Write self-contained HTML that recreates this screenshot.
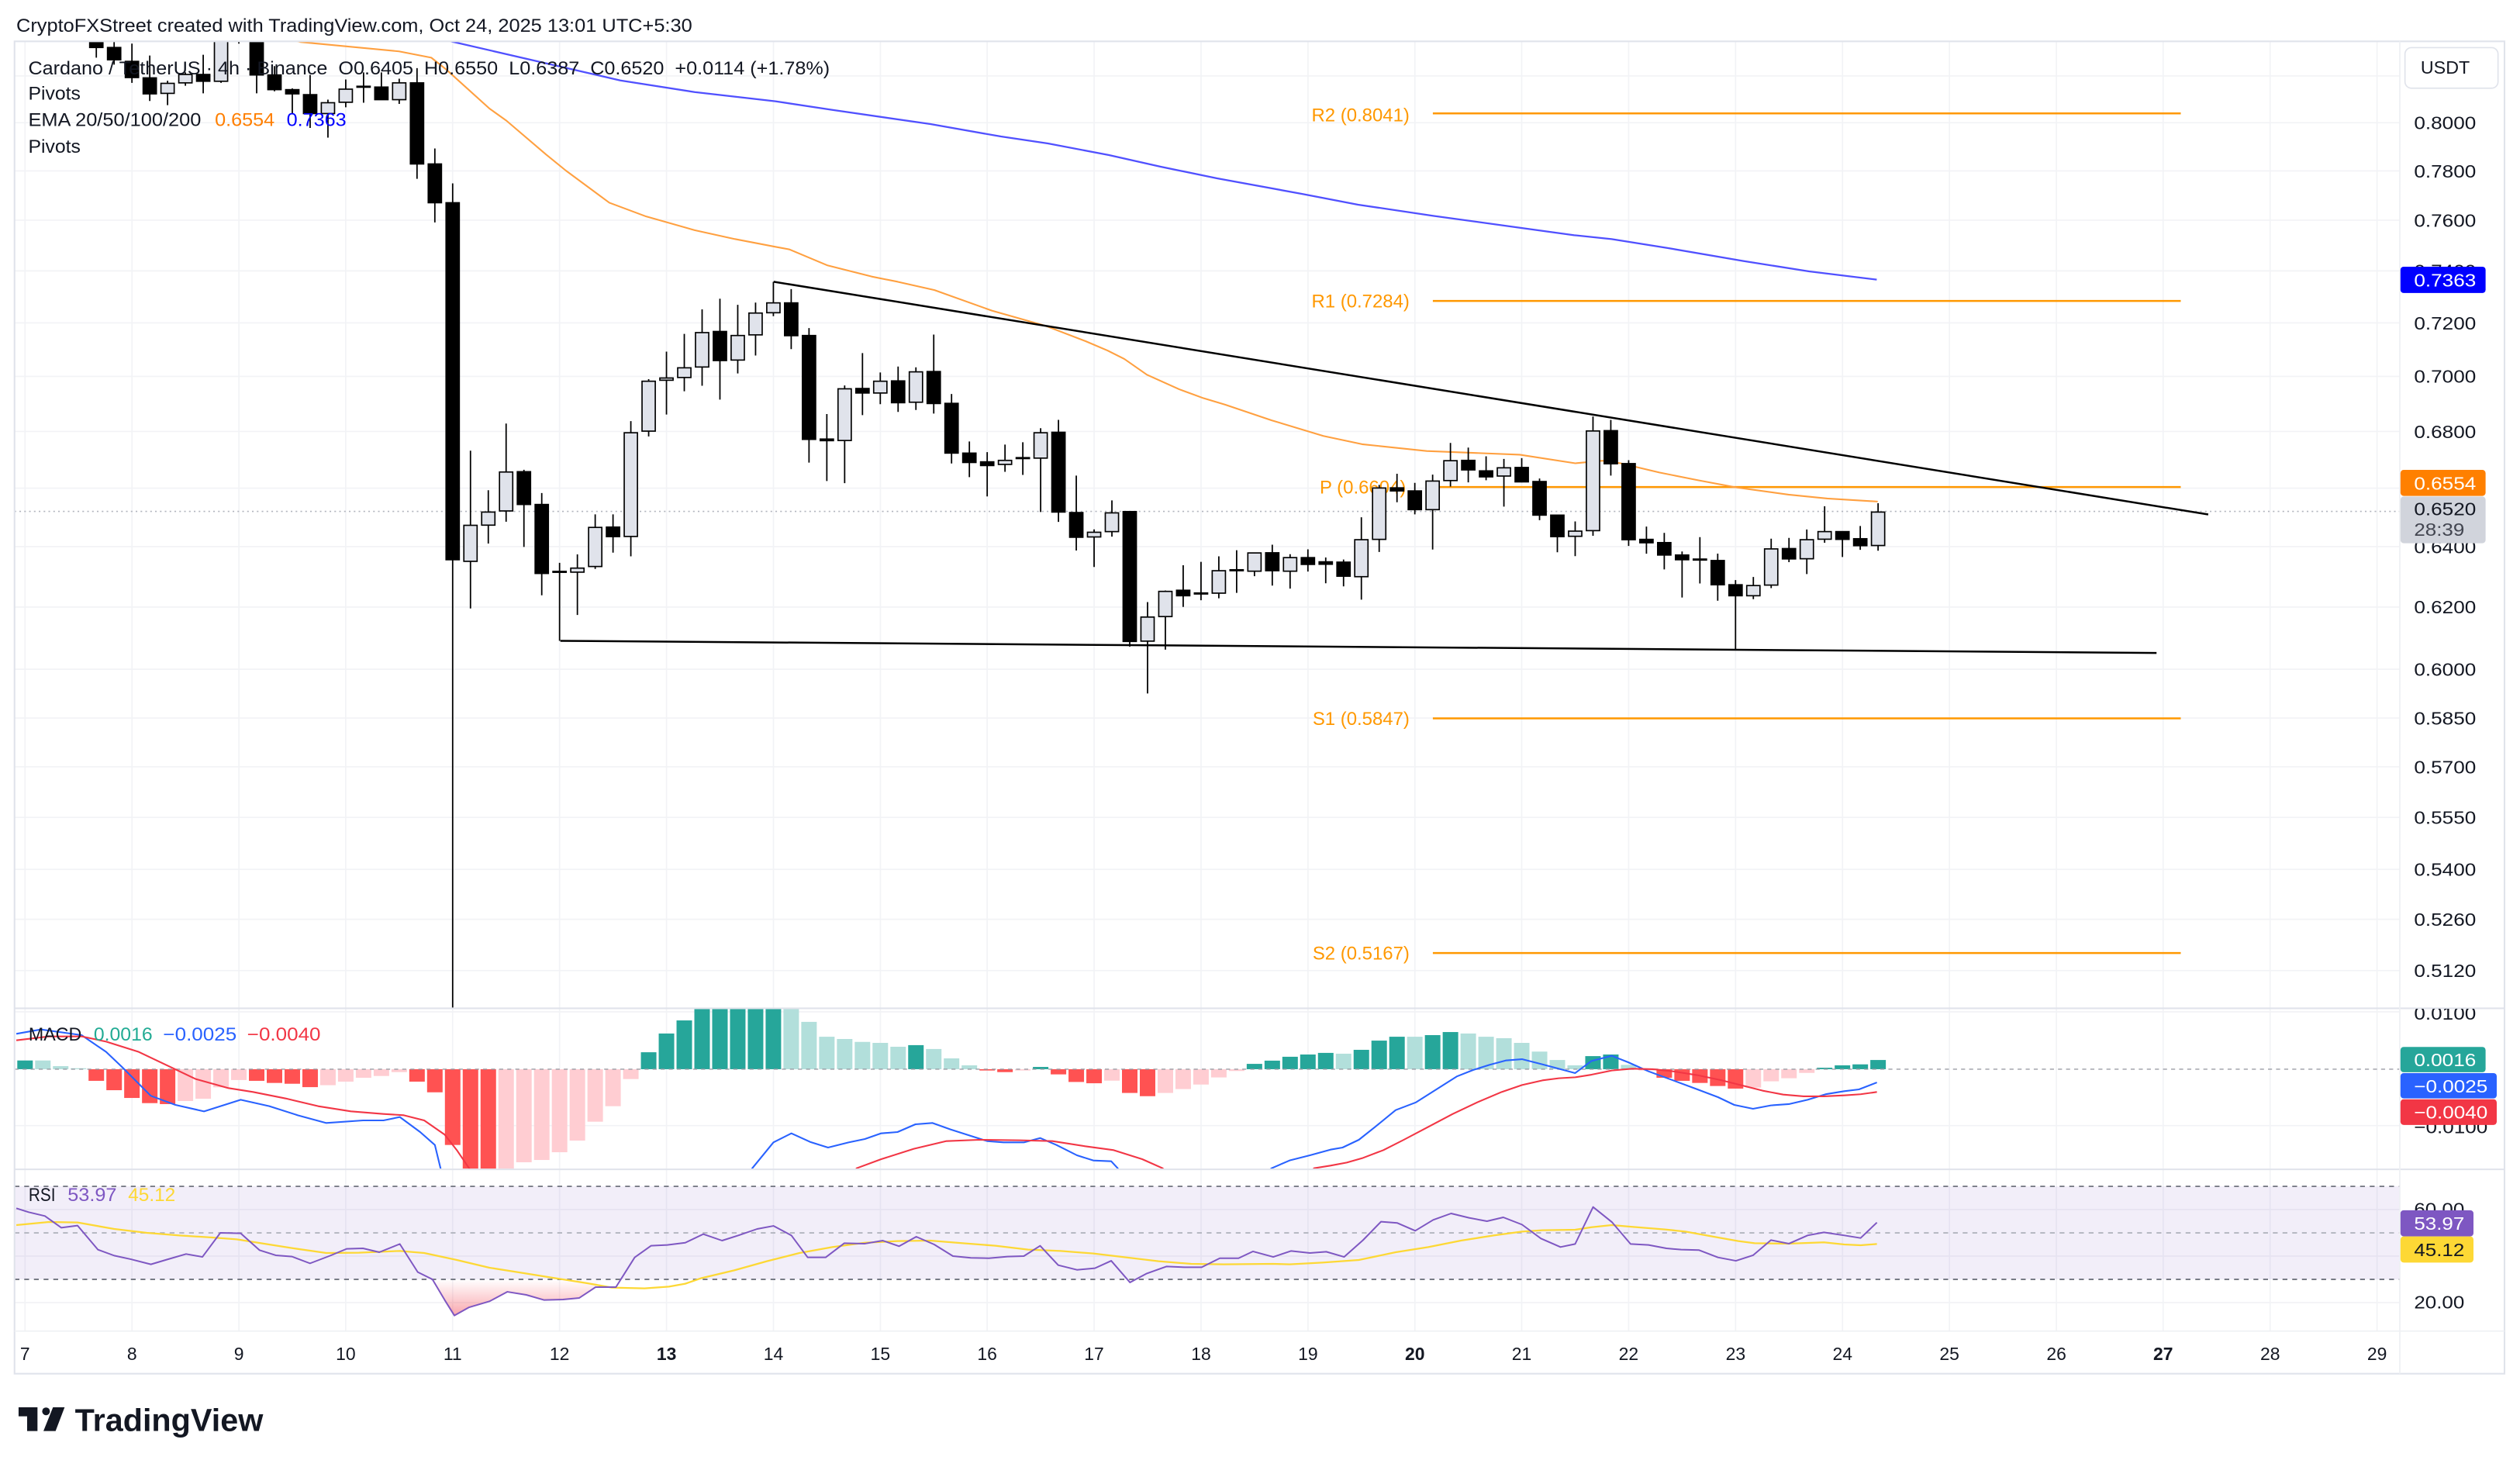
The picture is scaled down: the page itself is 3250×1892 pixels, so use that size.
<!DOCTYPE html>
<html><head><meta charset="utf-8"><style>
html,body{margin:0;padding:0;background:#fff;}
svg{display:block;font-family:"Liberation Sans",Arial,sans-serif;}
</style></head><body>
<svg width="3250" height="1892" viewBox="0 0 1560 908.16" xmlns="http://www.w3.org/2000/svg">
<defs>
<clipPath id="cm"><rect x="9" y="25.6" width="1476.6" height="598.4"/></clipPath>
<clipPath id="cmacd"><rect x="9" y="624.5" width="1476.6" height="99"/></clipPath>
<clipPath id="crsi"><rect x="9" y="724.2" width="1476.6" height="99.6"/></clipPath>
<clipPath id="caxm"><rect x="1486" y="624.5" width="70" height="99"/></clipPath>
<clipPath id="caxr"><rect x="1486" y="724.2" width="70" height="99.6"/></clipPath>
<linearGradient id="os" gradientUnits="userSpaceOnUse" x1="0" y1="792" x2="0" y2="815">
<stop offset="0" stop-color="#f23645" stop-opacity="0"/><stop offset="1" stop-color="#f23645" stop-opacity="0.45"/></linearGradient>
</defs>
<rect x="0" y="0" width="1560" height="908.16" fill="#fff"/>
<text x="10.1" y="19.6" font-size="11.5" fill="#131722" textLength="418.4" lengthAdjust="spacingAndGlyphs">CryptoFXStreet created with TradingView.com, Oct 24, 2025 13:01 UTC+5:30</text>

<!-- grids -->
<g stroke="#f2f3f6" stroke-width="0.8">
<path d="M9 47H1485.6M9 76H1485.6M9 105.8H1485.6M9 136.3H1485.6M9 167.7H1485.6M9 199.9H1485.6M9 233H1485.6M9 267.1H1485.6M9 302.2H1485.6M9 338.4H1485.6M9 375.8H1485.6M9 414.3H1485.6M9 444.5H1485.6M9 474.7H1485.6M9 506H1485.6M9 538.2H1485.6M9 569.1H1485.6M9 600.8H1485.6"/>
<path d="M9 626.4H1485.6M9 696.8H1485.6M9 748.8H1485.6M9 777.6H1485.6M9 806.4H1485.6"/>
<path d="M15.5 25.6V824M81.7 25.6V824M147.9 25.6V824M214 25.6V824M280.2 25.6V824M346.4 25.6V824M412.6 25.6V824M478.8 25.6V824M545 25.6V824M611.1 25.6V824M677.3 25.6V824M743.5 25.6V824M809.7 25.6V824M875.9 25.6V824M942 25.6V824M1008.2 25.6V824M1074.4 25.6V824M1140.6 25.6V824M1206.8 25.6V824M1273 25.6V824M1339.1 25.6V824M1405.3 25.6V824M1471.5 25.6V824"/>
</g>

<!-- main pane -->
<g clip-path="url(#cm)">
<path d="M9 316.6H1485.6" stroke="#b2b5be" stroke-width="0.8" stroke-dasharray="1,2"/>
<g stroke="#ff9800" stroke-width="1.2">
<path d="M887 70.2H1350M887 186.3H1350M887 301.5H1350M887 444.7H1350M887 590H1350"/>
</g>
<g font-size="11.5" fill="#ff9800" text-anchor="end">
<text x="872.6" y="75.2">R2 (0.8041)</text>
<text x="872.6" y="190.3">R1 (0.7284)</text>
<text x="870.4" y="305.6">P (0.6604)</text>
<text x="872.6" y="448.8">S1 (0.5847)</text>
<text x="872.6" y="594.1">S2 (0.5167)</text>
</g>
<polyline fill="none" stroke="#5050ff" stroke-width="1.1" stroke-linejoin="round" points="262,20 280,25.8 326,36.4 384,49.8 430,57 480,62.7 514.9,68 576,76.8 619.6,84.5 648.7,88.8 686.5,96 718.5,103.2 753.4,110.4 805.8,120 840.7,126.7 887.2,133.6 939.6,140.8 974.5,145.6 997.7,148 1032.7,153.6 1079.2,161.6 1119.9,168 1161.8,173.1"/>
<polyline fill="none" stroke="#ffa040" stroke-width="1" stroke-linejoin="round" points="170,22 186,26 247,31.8 267,35.7 276.2,43 303,67.2 313.5,74.7 338,95.6 350.3,105.6 377.2,125.5 400,134 430,142.5 455,148 480,152.8 488.7,154.4 512,164.2 539.6,171.2 555.6,174.4 578.5,179.6 614,192.3 647.5,201.8 672,211.2 685.6,217 696,222.2 710,232 730,241 745,246.5 758.4,250.5 787.2,260.2 819.2,269.9 843.2,275 883.2,279.2 940.8,281.5 975.2,286.8 992,285.2 1003.2,286.8 1027.2,292.5 1051.2,297.3 1075.2,301.8 1107.2,306.2 1131.2,308.6 1162.4,310.5"/>
<path d="M478.9 174.4L1367 318.5M346.9 396.7L1335 404.2" stroke="#000" stroke-width="1.2" fill="none"/>
<path stroke="#000" stroke-width="0.85" fill="none" d="M59.62 20V35.7M70.65 22V40M81.68 27V51.3M92.71 34.4V62.5M103.74 50V65.1M114.77 44.8V53.1M125.8 33.9V57.8M136.83 15V51.3M147.86 5V27M158.89 15V57.8M169.92 40.9V56.5M180.95 54.7V70.3M191.98 46.4V79.2M203.01 61.7V85.2M214.04 49.2V66.4M225.07 44.8V63.6M236.1 44.8V61.7M247.13 48.7V64.3M258.16 42.2V110.7M269.19 91.9V137.7M280.22 113.5V624M291.25 279V376.7M302.28 303.5V336.5M313.31 262.2V323M324.34 290.8V338.6M335.37 305.2V368.5M346.4 348.4V396.7M357.43 343.2V380.7M368.46 318.4V352.2M379.49 318.4V342.1M390.52 260.7V344.4M401.55 234.7V270.2M412.58 217.7V256.6M423.61 206.7V242.2M434.64 191.5V238.8M445.67 184.9V247.4M456.7 188.7V231.2M467.73 187.3V220.1M478.76 174.5V195.7M489.79 179V216.1M500.82 203.1V286.4M511.85 256.3V297.8M522.88 238.6V299.1M533.91 218.6V257M544.94 230.6V250.2M555.97 226.9V255M567 227.4V253.8M578.03 207.1V256M589.06 243.9V286.9M600.09 273.3V295.4M611.12 279.9V307.3M622.15 275.2V292.1M633.18 273.8V294M644.21 265.1V317M655.24 259.9V323.1M666.27 294.4V340.8M677.3 327.7V351M688.33 309.8V332.2M699.36 316.7V400.3M710.39 372.7V429.3M721.42 365.6V402.2M732.45 349.9V375.7M743.48 347.8V371.6M754.51 344.4V370.4M765.54 340.6V367M776.57 342.3V356.7M787.6 337.2V362.5M798.63 343.1V364.4M809.66 340.1V353.8M820.69 345.1V361.1M831.72 346.4V363M842.75 320.2V371.2M853.78 300.2V341.7M864.81 293.3V310.9M875.84 298.9V318.4M886.87 293.8V340.2M897.9 274.2V301.2M908.93 277.1V298.6M919.96 282.5V297.3M930.99 284.1V313.6M942.02 283.6V298.6M953.05 296.2V322M964.08 318.9V341.9M975.11 322.8V344.3M986.14 257.8V331.7M997.17 259.9V294.4M1008.2 284.9V338M1019.23 326V342.8M1030.26 329.9V352.5M1041.29 341.4V369.9M1052.32 332.5V361.2M1063.35 342.7V371.9M1074.38 359.1V402.2M1085.41 357.2V370.9M1096.44 333.5V364.1M1107.47 333V348M1118.5 327.8V355.4M1129.53 313.4V336M1140.56 329.1V344.8M1151.59 325.6V340.4M1162.62 311.5V340.9"/>
<g fill="#000" stroke="#000" stroke-width="0.8">
<rect x="55.52" y="20" width="8.2" height="9.4"/>
<rect x="66.55" y="29.4" width="8.2" height="7.6"/>
<rect x="77.58" y="38" width="8.2" height="10"/>
<rect x="88.61" y="48.2" width="8.2" height="9.9"/>
<rect x="121.7" y="46.1" width="8.2" height="4.2"/>
<rect x="143.76" y="10" width="8.2" height="8"/>
<rect x="154.79" y="20" width="8.2" height="26.4"/>
<rect x="165.82" y="46.4" width="8.2" height="9.1"/>
<rect x="176.85" y="55.5" width="8.2" height="2.6"/>
<rect x="187.88" y="58.6" width="8.2" height="11.7"/>
<rect x="220.97" y="53.4" width="8.2" height="0.6"/>
<rect x="232" y="53.9" width="8.2" height="7.8"/>
<rect x="254.06" y="51.3" width="8.2" height="50.2"/>
<rect x="265.09" y="101.5" width="8.2" height="24"/>
<rect x="276.12" y="125.5" width="8.2" height="221"/>
<rect x="320.24" y="292" width="8.2" height="20.3"/>
<rect x="331.27" y="312.3" width="8.2" height="42.7"/>
<rect x="342.3" y="353.7" width="8.2" height="0.6"/>
<rect x="375.39" y="326.3" width="8.2" height="5.9"/>
<rect x="441.57" y="205.2" width="8.2" height="18"/>
<rect x="485.69" y="187.5" width="8.2" height="20.3"/>
<rect x="496.72" y="207.7" width="8.2" height="64.3"/>
<rect x="507.75" y="271.8" width="8.2" height="1"/>
<rect x="529.81" y="240.5" width="8.2" height="2.8"/>
<rect x="551.87" y="235.8" width="8.2" height="13.5"/>
<rect x="573.93" y="230" width="8.2" height="19.8"/>
<rect x="584.96" y="249.7" width="8.2" height="30.8"/>
<rect x="595.99" y="280.5" width="8.2" height="5.8"/>
<rect x="607.02" y="285.9" width="8.2" height="2.3"/>
<rect x="629.08" y="283.3" width="8.2" height="0.6"/>
<rect x="651.14" y="267.6" width="8.2" height="49.4"/>
<rect x="662.17" y="317.3" width="8.2" height="15.3"/>
<rect x="695.26" y="316.7" width="8.2" height="80.4"/>
<rect x="728.35" y="365.4" width="8.2" height="3.4"/>
<rect x="739.38" y="367.1" width="8.2" height="0.6"/>
<rect x="761.44" y="352.7" width="8.2" height="0.6"/>
<rect x="783.5" y="342.2" width="8.2" height="11.1"/>
<rect x="805.56" y="345.2" width="8.2" height="4.2"/>
<rect x="816.59" y="347.8" width="8.2" height="1.5"/>
<rect x="827.62" y="348" width="8.2" height="8.7"/>
<rect x="860.71" y="302" width="8.2" height="1.9"/>
<rect x="871.74" y="303.9" width="8.2" height="11.6"/>
<rect x="904.83" y="285" width="8.2" height="5.9"/>
<rect x="915.86" y="291.5" width="8.2" height="3.7"/>
<rect x="937.92" y="289.4" width="8.2" height="8.9"/>
<rect x="948.95" y="298.1" width="8.2" height="20.8"/>
<rect x="959.98" y="318.9" width="8.2" height="13.3"/>
<rect x="993.07" y="266.6" width="8.2" height="20.5"/>
<rect x="1004.1" y="287" width="8.2" height="47.1"/>
<rect x="1015.13" y="333.9" width="8.2" height="2.1"/>
<rect x="1026.16" y="335.9" width="8.2" height="7.7"/>
<rect x="1037.19" y="343.6" width="8.2" height="2.9"/>
<rect x="1048.22" y="346.1" width="8.2" height="0.6"/>
<rect x="1059.25" y="347" width="8.2" height="15"/>
<rect x="1070.28" y="362" width="8.2" height="6.8"/>
<rect x="1103.37" y="339.6" width="8.2" height="6.4"/>
<rect x="1136.46" y="329.1" width="8.2" height="4.8"/>
<rect x="1147.49" y="333.5" width="8.2" height="4.3"/>
</g>
<g fill="#e0e3eb" stroke="#000" stroke-width="0.8">
<rect x="99.64" y="51.6" width="8.2" height="6.2"/>
<rect x="110.67" y="46.1" width="8.2" height="5.2"/>
<rect x="132.73" y="20" width="8.2" height="30.3"/>
<rect x="198.91" y="63.6" width="8.2" height="6.7"/>
<rect x="209.94" y="55.2" width="8.2" height="8.1"/>
<rect x="243.03" y="51.3" width="8.2" height="10.4"/>
<rect x="287.15" y="325.2" width="8.2" height="22.3"/>
<rect x="298.18" y="317" width="8.2" height="8.1"/>
<rect x="309.21" y="292.2" width="8.2" height="24.1"/>
<rect x="353.33" y="351.7" width="8.2" height="2.5"/>
<rect x="364.36" y="326.5" width="8.2" height="24.2"/>
<rect x="386.42" y="267.9" width="8.2" height="64.2"/>
<rect x="397.45" y="236" width="8.2" height="30.9"/>
<rect x="408.48" y="234" width="8.2" height="1.4"/>
<rect x="419.51" y="227.7" width="8.2" height="6"/>
<rect x="430.54" y="205.9" width="8.2" height="21.3"/>
<rect x="452.6" y="207.7" width="8.2" height="15.2"/>
<rect x="463.63" y="193.8" width="8.2" height="13.5"/>
<rect x="474.66" y="187.5" width="8.2" height="6.1"/>
<rect x="518.78" y="240.7" width="8.2" height="32"/>
<rect x="540.84" y="236" width="8.2" height="7.3"/>
<rect x="562.9" y="230.2" width="8.2" height="18.8"/>
<rect x="618.05" y="285" width="8.2" height="2.5"/>
<rect x="640.11" y="267.9" width="8.2" height="15.7"/>
<rect x="673.2" y="329.5" width="8.2" height="2.9"/>
<rect x="684.23" y="317.5" width="8.2" height="11.6"/>
<rect x="706.29" y="382" width="8.2" height="14.9"/>
<rect x="717.32" y="366.1" width="8.2" height="15.6"/>
<rect x="750.41" y="353.3" width="8.2" height="13.9"/>
<rect x="772.47" y="342.3" width="8.2" height="11.3"/>
<rect x="794.53" y="345.2" width="8.2" height="8.4"/>
<rect x="838.65" y="334.1" width="8.2" height="22.9"/>
<rect x="849.68" y="302.1" width="8.2" height="31.8"/>
<rect x="882.77" y="297.8" width="8.2" height="17.7"/>
<rect x="893.8" y="285.2" width="8.2" height="12.3"/>
<rect x="926.89" y="289.6" width="8.2" height="5.1"/>
<rect x="971.01" y="328.8" width="8.2" height="3.2"/>
<rect x="982.04" y="266.8" width="8.2" height="61.7"/>
<rect x="1081.31" y="362.5" width="8.2" height="6.3"/>
<rect x="1092.34" y="339.8" width="8.2" height="22.4"/>
<rect x="1114.4" y="334.1" width="8.2" height="11.8"/>
<rect x="1125.43" y="329.1" width="8.2" height="4.7"/>
<rect x="1158.52" y="317" width="8.2" height="20.7"/>
</g>
</g>

<!-- legend -->
<g font-size="11.5" fill="#131722">
<text x="17.5" y="46" xml:space="preserve" textLength="496.2" lengthAdjust="spacingAndGlyphs">Cardano / TetherUS · 4h · Binance  O0.6405  H0.6550  L0.6387  C0.6520  +0.0114 (+1.78%)</text>
<text x="17.5" y="61.7" textLength="32.4" lengthAdjust="spacingAndGlyphs">Pivots</text>
<text x="17.5" y="78" textLength="107" lengthAdjust="spacingAndGlyphs">EMA 20/50/100/200</text>
<text x="133" y="78" fill="#ff7f00" textLength="37" lengthAdjust="spacingAndGlyphs">0.6554</text>
<text x="177.4" y="78" fill="#0000ff" textLength="37" lengthAdjust="spacingAndGlyphs">0.7363</text>
<text x="17.5" y="94.5" textLength="32.4" lengthAdjust="spacingAndGlyphs">Pivots</text>
</g>

<!-- MACD pane -->
<g clip-path="url(#cmacd)">
<g fill="#26a69a">
<rect x="10.7" y="656.5" width="9.6" height="5.4"/>
<rect x="396.75" y="651.4" width="9.6" height="10.5"/>
<rect x="407.78" y="639.8" width="9.6" height="22.1"/>
<rect x="418.81" y="631.7" width="9.6" height="30.2"/>
<rect x="429.84" y="620" width="9.6" height="41.9"/>
<rect x="440.87" y="620" width="9.6" height="41.9"/>
<rect x="451.9" y="620" width="9.6" height="41.9"/>
<rect x="462.93" y="620" width="9.6" height="41.9"/>
<rect x="473.96" y="620" width="9.6" height="41.9"/>
<rect x="562.2" y="647" width="9.6" height="14.9"/>
<rect x="639.41" y="660.5" width="9.6" height="1.4"/>
<rect x="771.77" y="658.6" width="9.6" height="3.3"/>
<rect x="782.8" y="656.6" width="9.6" height="5.3"/>
<rect x="793.83" y="654.2" width="9.6" height="7.7"/>
<rect x="804.86" y="652.8" width="9.6" height="9.1"/>
<rect x="815.89" y="651.8" width="9.6" height="10.1"/>
<rect x="837.95" y="649.9" width="9.6" height="12"/>
<rect x="848.98" y="644.2" width="9.6" height="17.7"/>
<rect x="860.01" y="641.8" width="9.6" height="20.1"/>
<rect x="882.07" y="640.8" width="9.6" height="21.1"/>
<rect x="893.1" y="638.9" width="9.6" height="23"/>
<rect x="981.34" y="653.8" width="9.6" height="8.1"/>
<rect x="992.37" y="652.8" width="9.6" height="9.1"/>
<rect x="1124.73" y="661" width="9.6" height="0.9"/>
<rect x="1135.76" y="659.5" width="9.6" height="2.4"/>
<rect x="1146.79" y="658.9" width="9.6" height="3"/>
<rect x="1157.82" y="656.2" width="9.6" height="5.7"/>
</g>
<g fill="#b2dfdb">
<rect x="21.73" y="656.5" width="9.6" height="5.4"/>
<rect x="32.76" y="660" width="9.6" height="1.9"/>
<rect x="43.79" y="661.3" width="9.6" height="0.6"/>
<rect x="484.99" y="620" width="9.6" height="41.9"/>
<rect x="496.02" y="632.6" width="9.6" height="29.3"/>
<rect x="507.05" y="641.8" width="9.6" height="20.1"/>
<rect x="518.08" y="643.2" width="9.6" height="18.7"/>
<rect x="529.11" y="645" width="9.6" height="16.9"/>
<rect x="540.14" y="645.6" width="9.6" height="16.3"/>
<rect x="551.17" y="648" width="9.6" height="13.9"/>
<rect x="573.23" y="649.4" width="9.6" height="12.5"/>
<rect x="584.26" y="655.2" width="9.6" height="6.7"/>
<rect x="595.29" y="659.5" width="9.6" height="2.4"/>
<rect x="826.92" y="652.3" width="9.6" height="9.6"/>
<rect x="871.04" y="641.8" width="9.6" height="20.1"/>
<rect x="904.13" y="639.8" width="9.6" height="22.1"/>
<rect x="915.16" y="641.8" width="9.6" height="20.1"/>
<rect x="926.19" y="642.7" width="9.6" height="19.2"/>
<rect x="937.22" y="645.6" width="9.6" height="16.3"/>
<rect x="948.25" y="651" width="9.6" height="10.9"/>
<rect x="959.28" y="656.2" width="9.6" height="5.7"/>
<rect x="970.31" y="659.5" width="9.6" height="2.4"/>
<rect x="1003.4" y="659.2" width="9.6" height="2.7"/>
</g>
<g fill="#ff5252">
<rect x="54.82" y="661.9" width="9.6" height="7.2"/>
<rect x="65.85" y="661.9" width="9.6" height="13"/>
<rect x="76.88" y="661.9" width="9.6" height="17.8"/>
<rect x="87.91" y="661.9" width="9.6" height="21"/>
<rect x="98.94" y="661.9" width="9.6" height="21.6"/>
<rect x="154.09" y="661.9" width="9.6" height="7.2"/>
<rect x="165.12" y="661.9" width="9.6" height="8.5"/>
<rect x="176.15" y="661.9" width="9.6" height="9"/>
<rect x="187.18" y="661.9" width="9.6" height="11.1"/>
<rect x="253.36" y="661.9" width="9.6" height="7.7"/>
<rect x="264.39" y="661.9" width="9.6" height="14.3"/>
<rect x="275.42" y="661.9" width="9.6" height="46.9"/>
<rect x="286.45" y="661.9" width="9.6" height="66"/>
<rect x="297.48" y="661.9" width="9.6" height="66"/>
<rect x="606.32" y="661.9" width="9.6" height="0.8"/>
<rect x="617.35" y="661.9" width="9.6" height="1.8"/>
<rect x="650.44" y="661.9" width="9.6" height="3.2"/>
<rect x="661.47" y="661.9" width="9.6" height="7.9"/>
<rect x="672.5" y="661.9" width="9.6" height="8.7"/>
<rect x="694.56" y="661.9" width="9.6" height="14.7"/>
<rect x="705.59" y="661.9" width="9.6" height="16.7"/>
<rect x="1025.46" y="661.9" width="9.6" height="5.3"/>
<rect x="1036.49" y="661.9" width="9.6" height="7.2"/>
<rect x="1047.52" y="661.9" width="9.6" height="8.5"/>
<rect x="1058.55" y="661.9" width="9.6" height="10.4"/>
<rect x="1069.58" y="661.9" width="9.6" height="12"/>
</g>
<g fill="#ffcdd2">
<rect x="109.97" y="661.9" width="9.6" height="19.7"/>
<rect x="121" y="661.9" width="9.6" height="18.3"/>
<rect x="132.03" y="661.9" width="9.6" height="11.2"/>
<rect x="143.06" y="661.9" width="9.6" height="6.7"/>
<rect x="198.21" y="661.9" width="9.6" height="9.9"/>
<rect x="209.24" y="661.9" width="9.6" height="7.7"/>
<rect x="220.27" y="661.9" width="9.6" height="5.3"/>
<rect x="231.3" y="661.9" width="9.6" height="4.2"/>
<rect x="242.33" y="661.9" width="9.6" height="1.8"/>
<rect x="308.51" y="661.9" width="9.6" height="66"/>
<rect x="319.54" y="661.9" width="9.6" height="57.6"/>
<rect x="330.57" y="661.9" width="9.6" height="56.2"/>
<rect x="341.6" y="661.9" width="9.6" height="51.4"/>
<rect x="352.63" y="661.9" width="9.6" height="44.2"/>
<rect x="363.66" y="661.9" width="9.6" height="32.5"/>
<rect x="374.69" y="661.9" width="9.6" height="22.9"/>
<rect x="385.72" y="661.9" width="9.6" height="6.1"/>
<rect x="628.38" y="661.9" width="9.6" height="0.8"/>
<rect x="683.53" y="661.9" width="9.6" height="7.1"/>
<rect x="716.62" y="661.9" width="9.6" height="14.7"/>
<rect x="727.65" y="661.9" width="9.6" height="12.3"/>
<rect x="738.68" y="661.9" width="9.6" height="9.5"/>
<rect x="749.71" y="661.9" width="9.6" height="5.1"/>
<rect x="760.74" y="661.9" width="9.6" height="1.1"/>
<rect x="1014.43" y="661.9" width="9.6" height="0.8"/>
<rect x="1080.61" y="661.9" width="9.6" height="11.4"/>
<rect x="1091.64" y="661.9" width="9.6" height="7.5"/>
<rect x="1102.67" y="661.9" width="9.6" height="5.6"/>
<rect x="1113.7" y="661.9" width="9.6" height="2.3"/>
</g>
<path d="M9 661.9H1485.6" stroke="#9598a1" stroke-width="0.8" stroke-dasharray="2.5,2.5" opacity="0.8"/>
<polyline fill="none" stroke="#2962ff" stroke-width="1" stroke-linejoin="round" points="10.1,640 25.3,637.3 50.5,640.8 65.7,651.2 75.8,660.8 93.4,678.4 108.6,684 126.3,688 149,680.8 166.7,684.8 184.3,690.4 202,695.2 224.7,693.6 237.4,693.6 247.5,691.5 260.1,700.8 269.2,708.8 272.7,723.2 275.3,731"/>
<polyline fill="none" stroke="#2962ff" stroke-width="1" stroke-linejoin="round" points="462.1,731 465.7,723.2 478.8,707.2 489.9,701.6 501.5,706.9 512.6,710.4 525.3,707.2 535.4,705.1 545.5,701.6 555.6,700.8 566.7,696 577.3,695.2 588.4,699.2 601,703.2 611.1,706.4 621.2,707.2 633.8,707.2 643.9,704.5 654,708.8 666.7,715.2 676.8,718.4 687.9,718.9 691.9,723.2 697,734"/>
<polyline fill="none" stroke="#2962ff" stroke-width="1" stroke-linejoin="round" points="778.1,731 787.2,723.2 798.3,718.4 810.9,715.2 823.6,711.7 831.1,710.4 841.2,705.6 851.3,697.6 864,687.2 876.6,682.4 889.2,674.4 901.8,666.4 911.9,662.4 922,659.2 932.1,656.5 942.2,655.7 954.9,658.9 965,661.6 975.1,664.3 985.2,656.8 997.8,653.6 1007.9,657.6 1020.5,663.2 1035.7,668.8 1050.8,674.4 1063.5,679.2 1073.6,684 1085.2,686.4 1096.3,684.3 1107.4,683.5 1119,680.8 1130.6,677.3 1141.7,675.5 1150.8,674.4 1161.9,670.1"/>
<polyline fill="none" stroke="#f23645" stroke-width="1" stroke-linejoin="round" points="10.1,644 30.3,641.6 50.5,641.6 65.7,644.8 85.9,651.2 106.1,660.8 121.2,668 141.4,673.6 156.6,676 176.8,680 197,684.8 217.2,688 237.4,689.6 250,690.4 262.6,693.6 275.3,702.4 282.8,712 290.4,723.2 295.5,731"/>
<polyline fill="none" stroke="#f23645" stroke-width="1" stroke-linejoin="round" points="525.3,731 530.3,723.2 545.5,717.6 565.7,711.2 585.9,706.4 606.1,705.6 631.3,705.9 651.5,706.4 671.7,709.6 689.4,712 707.1,717.6 719.7,723.2 727.3,731"/>
<polyline fill="none" stroke="#f23645" stroke-width="1" stroke-linejoin="round" points="805.9,731 813.5,723.2 823.6,721.6 833.7,719.7 843.8,716.8 856.4,712 869,705.6 884.2,697.6 899.3,689.6 914.5,682.4 929.6,676 942.2,671.7 954.9,668.8 965,667.5 975.1,666.9 985.2,665.3 997.8,662.7 1010.4,661.6 1023.1,661.9 1035.7,663.2 1050.8,665.6 1066,668.8 1078.6,672 1091.2,675.2 1103.9,677.6 1116.5,678.7 1129.1,678.7 1141.7,678.1 1151.8,677.4 1161.9,676"/>
</g>
<g font-size="11.5">
<text x="17.7" y="644.1" fill="#131722" textLength="32.8" lengthAdjust="spacingAndGlyphs">MACD</text>
<text x="58" y="644.1" fill="#22ab94" textLength="36.4" lengthAdjust="spacingAndGlyphs">0.0016</text>
<text x="101" y="644.1" fill="#2962ff" textLength="45.5" lengthAdjust="spacingAndGlyphs">−0.0025</text>
<text x="153" y="644.1" fill="#f23645" textLength="45.5" lengthAdjust="spacingAndGlyphs">−0.0040</text>
</g>

<!-- RSI pane -->
<g clip-path="url(#crsi)">
<rect x="9" y="734.4" width="1476.6" height="57.6" fill="#7e57c2" opacity="0.1"/>
<path d="M9 734.4H1485.6M9 792H1485.6" stroke="#787b86" stroke-width="0.9" stroke-dasharray="3,3"/>
<path d="M9 763.2H1485.6" stroke="#b2b5be" stroke-width="0.9" stroke-dasharray="3,3"/>
<polygon fill="url(#os)" points="267.7,792 275.3,804.8 281.3,814.4 290.4,809.3 303,805.6 314.1,799.7 325.8,801.6 336.9,804.8 348.5,804.5 358.6,803.5 368.7,796.8 371,792"/>
<polyline fill="none" stroke="#fdd835" stroke-width="1.1" stroke-linejoin="round" points="10.1,758.4 30.3,756.5 48,756.8 70.7,760.8 90.9,763.2 111.1,764.8 131.3,766.1 146.5,767.2 161.6,769.6 181.8,772.8 202,775.7 222.2,775.5 247.5,774.4 262.6,775.7 282.8,780 303,784.8 323.2,788 343.4,791.2 363.6,794.4 378.8,797.1 399,797.6 414.1,796.5 424.2,794.7 434.3,791.2 454.5,786.4 474.7,780.8 494.9,775.7 515.2,772 535.4,769.3 555.6,768.3 575.8,768 596,769.6 616.2,771.2 636.4,773.6 656.6,774.4 676.8,776 697,778.4 717.2,780.8 737.4,782.4 757.6,782.7 787.9,782.4 798.3,782.7 818.5,781.6 841.2,780 864,775.2 884.2,772 904.4,768 924.6,764.8 942.2,762.4 954.9,761.6 975.1,761.3 985.2,759.7 997.8,758.4 1010.4,759.5 1030.6,761.1 1043.3,762.4 1060.9,765.6 1076.1,768.3 1086.2,769.6 1106.4,769.9 1129.1,769.1 1141.7,770.4 1151.8,770.9 1161.9,770.1"/>
<polyline fill="none" stroke="#7e57c2" stroke-width="0.95" stroke-linejoin="round" points="10.1,748 17.7,750.4 27.8,752.8 37.9,760 48,758.7 60.6,773.6 70.7,777.3 80.8,779.5 93.4,782.7 103.5,779.7 115.2,776.3 125.3,778.1 136.4,763.2 149,763.5 160.6,773.9 170.7,777.1 180.8,777.9 191.9,782.1 204.5,777.3 214.6,773.1 224.7,772.8 234.8,775.2 247.5,770.1 258.6,787.5 267.7,792 275.3,804.8 281.3,814.4 290.4,809.3 303,805.6 314.1,799.7 325.8,801.6 336.9,804.8 348.5,804.5 358.6,803.5 368.7,796.8 381.3,796.8 392.9,778.4 403,771.2 413.1,770.7 424.2,769.3 435.4,764 447,768 457.1,764.8 468.7,760.8 478.8,758.9 489.9,764.8 500,778.4 511.1,778.4 522.7,769.6 535.4,769.9 546.5,768 556.6,771.5 567.2,765.6 578.3,770.4 589.9,777.6 601,778.7 612.1,778.9 623.7,777.9 633.8,777.6 643.9,771.2 655.1,783.2 666.7,786.1 677.8,785.1 687.9,780.5 699.5,793.9 709.6,788.5 722.2,784 733.3,784.5 743.9,784.5 755.1,778.9 766.7,778.9 775.6,774.7 788.2,778.1 799.3,774.4 810.9,775.7 821,774.9 832.1,778.1 843.8,767.7 854.9,756.3 865,757.1 876.1,761.9 887.2,755.2 898.3,751.2 909.4,753.9 920.5,756 930.6,753.6 942.2,758.1 953.9,766.7 966,772 975.1,770.1 986.2,747.2 997.8,756.5 1009.4,770.1 1020.5,770.7 1031.6,772.8 1040.7,773.6 1051.8,773.9 1063.5,778.4 1074.6,780.5 1085.2,777.1 1096.3,767.7 1107.4,769.9 1119,764.8 1129.1,762.9 1141.7,764.8 1151.8,766.4 1161.9,756.8"/>
</g>
<g font-size="11.5">
<text x="17.7" y="743.6" fill="#131722" textLength="16.6" lengthAdjust="spacingAndGlyphs">RSI</text>
<text x="41.9" y="743.6" fill="#7e57c2" textLength="30.3" lengthAdjust="spacingAndGlyphs">53.97</text>
<text x="79.3" y="743.6" fill="#fdd835" textLength="29.3" lengthAdjust="spacingAndGlyphs">45.12</text>
</g>

<!-- frame & separators -->
<g fill="none" stroke="#e0e3eb" stroke-width="1">
<rect x="9" y="25.6" width="1541.4" height="824.8"/>
<path d="M9 624.2H1550.4M9 723.9H1550.4"/>
</g>
<path d="M9 824H1550.4M1485.6 25.6V850.4" stroke="#eef0f3" stroke-width="0.8"/>

<!-- price axis -->
<rect x="1488.8" y="29.5" width="57.6" height="25.1" rx="4" fill="#fff" stroke="#e0e3eb" stroke-width="0.8"/>
<text x="1498.5" y="45.7" font-size="11" fill="#131722" textLength="30.4" lengthAdjust="spacingAndGlyphs">USDT</text>
<g font-size="11" fill="#131722">
<text x="1494.4" y="80" textLength="38.4" lengthAdjust="spacingAndGlyphs">0.8000</text>
<text x="1494.4" y="109.8" textLength="38.4" lengthAdjust="spacingAndGlyphs">0.7800</text>
<text x="1494.4" y="140.3" textLength="38.4" lengthAdjust="spacingAndGlyphs">0.7600</text>
<text x="1494.4" y="171.7" textLength="38.4" lengthAdjust="spacingAndGlyphs">0.7400</text>
<text x="1494.4" y="203.9" textLength="38.4" lengthAdjust="spacingAndGlyphs">0.7200</text>
<text x="1494.4" y="237" textLength="38.4" lengthAdjust="spacingAndGlyphs">0.7000</text>
<text x="1494.4" y="271.1" textLength="38.4" lengthAdjust="spacingAndGlyphs">0.6800</text>
<text x="1494.4" y="342.4" textLength="38.4" lengthAdjust="spacingAndGlyphs">0.6400</text>
<text x="1494.4" y="379.8" textLength="38.4" lengthAdjust="spacingAndGlyphs">0.6200</text>
<text x="1494.4" y="418.3" textLength="38.4" lengthAdjust="spacingAndGlyphs">0.6000</text>
<text x="1494.4" y="448.5" textLength="38.4" lengthAdjust="spacingAndGlyphs">0.5850</text>
<text x="1494.4" y="478.7" textLength="38.4" lengthAdjust="spacingAndGlyphs">0.5700</text>
<text x="1494.4" y="510" textLength="38.4" lengthAdjust="spacingAndGlyphs">0.5550</text>
<text x="1494.4" y="542.2" textLength="38.4" lengthAdjust="spacingAndGlyphs">0.5400</text>
<text x="1494.4" y="573.1" textLength="38.4" lengthAdjust="spacingAndGlyphs">0.5260</text>
<text x="1494.4" y="604.8" textLength="38.4" lengthAdjust="spacingAndGlyphs">0.5120</text>
</g>
<rect x="1486" y="165.1" width="52.7" height="16.3" rx="2" fill="#0000ff"/>
<text x="1494.4" y="177.3" font-size="11" fill="#fff" textLength="38.4" lengthAdjust="spacingAndGlyphs">0.7363</text>
<rect x="1486" y="290.9" width="52.7" height="16.1" rx="2" fill="#ff8000"/>
<text x="1494.4" y="303" font-size="11" fill="#fff" textLength="38.4" lengthAdjust="spacingAndGlyphs">0.6554</text>
<rect x="1486" y="307.4" width="52.7" height="28.9" rx="2" fill="#d1d4dc"/>
<text x="1494.4" y="319" font-size="11" fill="#131722" textLength="38.4" lengthAdjust="spacingAndGlyphs">0.6520</text>
<text x="1494.4" y="331.8" font-size="11" fill="#434651" textLength="31.2" lengthAdjust="spacingAndGlyphs">28:39</text>

<!-- MACD axis -->
<g clip-path="url(#caxm)" font-size="11" fill="#131722">
<text x="1494.4" y="631.3" textLength="38.4" lengthAdjust="spacingAndGlyphs">0.0100</text>
<text x="1494.4" y="701.5" textLength="45.6" lengthAdjust="spacingAndGlyphs">−0.0100</text>
</g>
<rect x="1486" y="648.1" width="52.7" height="15.7" rx="2" fill="#26a69a"/>
<text x="1494.4" y="660" font-size="11" fill="#fff" textLength="38.4" lengthAdjust="spacingAndGlyphs">0.0016</text>
<rect x="1486" y="664.3" width="59.6" height="15.7" rx="2" fill="#2962ff"/>
<text x="1494.4" y="676.2" font-size="11" fill="#fff" textLength="45.6" lengthAdjust="spacingAndGlyphs">−0.0025</text>
<rect x="1486" y="680.5" width="59.6" height="15.9" rx="2" fill="#f23645"/>
<text x="1494.4" y="692.5" font-size="11" fill="#fff" textLength="45.6" lengthAdjust="spacingAndGlyphs">−0.0040</text>

<!-- RSI axis -->
<g clip-path="url(#caxr)" font-size="11" fill="#131722">
<text x="1494.4" y="752.3" textLength="31.2" lengthAdjust="spacingAndGlyphs">60.00</text>
<text x="1494.4" y="810.1" textLength="31.2" lengthAdjust="spacingAndGlyphs">20.00</text>
</g>
<rect x="1486" y="749.2" width="45.2" height="16.2" rx="2" fill="#7e57c2"/>
<text x="1494.4" y="761.3" font-size="11" fill="#fff" textLength="31.2" lengthAdjust="spacingAndGlyphs">53.97</text>
<rect x="1486" y="765.4" width="45.2" height="16.2" rx="2" fill="#fdd835"/>
<text x="1494.4" y="777.5" font-size="11" fill="#131722" textLength="31.2" lengthAdjust="spacingAndGlyphs">45.12</text>

<!-- time axis -->
<g font-size="11" fill="#131722" text-anchor="middle">
<text x="15.5" y="842">7</text>
<text x="81.7" y="842">8</text>
<text x="147.9" y="842">9</text>
<text x="214" y="842">10</text>
<text x="280.2" y="842">11</text>
<text x="346.4" y="842">12</text>
<text x="412.6" y="842" font-weight="bold">13</text>
<text x="478.8" y="842">14</text>
<text x="545" y="842">15</text>
<text x="611.1" y="842">16</text>
<text x="677.3" y="842">17</text>
<text x="743.5" y="842">18</text>
<text x="809.7" y="842">19</text>
<text x="875.9" y="842" font-weight="bold">20</text>
<text x="942" y="842">21</text>
<text x="1008.2" y="842">22</text>
<text x="1074.4" y="842">23</text>
<text x="1140.6" y="842">24</text>
<text x="1206.8" y="842">25</text>
<text x="1273" y="842">26</text>
<text x="1339.1" y="842" font-weight="bold">27</text>
<text x="1405.3" y="842">28</text>
<text x="1471.5" y="842">29</text>
</g>

<!-- logo -->
<g fill="#131722">
<polygon points="11.5,871.2 23.2,871.2 23.2,885.9 16.8,885.9 16.8,876.8 11.5,876.8"/>
<circle cx="28.5" cy="873.7" r="2.4"/>
<polygon points="32.8,871.2 40,871.2 34.4,885.9 26.9,885.9"/>
<text x="46.4" y="885.9" font-size="19.6" font-weight="bold" textLength="116.5" lengthAdjust="spacingAndGlyphs">TradingView</text>
</g>
</svg>
</body></html>
